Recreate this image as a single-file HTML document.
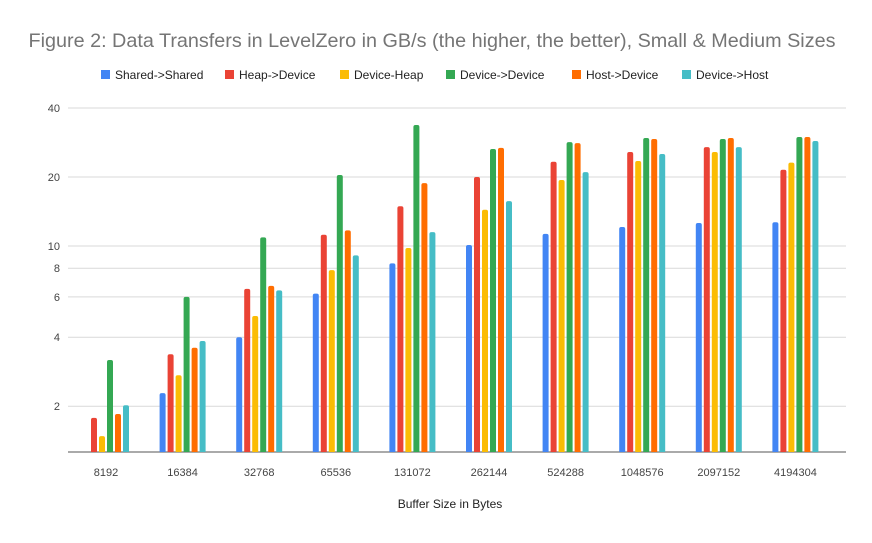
<!DOCTYPE html>
<html><head><meta charset="utf-8"><style>
body{margin:0;background:#fff;font-family:"Liberation Sans",sans-serif}
</style></head><body>
<svg id="chart" width="872" height="538" xmlns="http://www.w3.org/2000/svg" style="font-family:'Liberation Sans',sans-serif">
<rect width="872" height="538" fill="#fff"/>
<text x="432" y="47" text-anchor="middle" font-size="19.8" fill="#757575">Figure 2: Data Transfers in LevelZero in GB/s (the higher, the better), Small &amp; Medium Sizes</text>
<g id="grid"></g><g id="bars"></g><g id="legend"></g><g id="xlabels"></g>
<text x="450" y="508" text-anchor="middle" font-size="12" fill="#222">Buffer Size in Bytes</text>
</svg>
<script>
const categories=["8192","16384","32768","65536","131072","262144","524288","1048576","2097152","4194304"];
const seriesNames=["Shared->Shared","Heap->Device","Device-Heap","Device->Device","Host->Device","Device->Host"];
const sharedShared=[null,2.28,4.0,6.2,8.4,10.1,11.3,12.1,12.6,12.7];
const heapDevice=[1.78,3.37,6.5,11.2,14.9,20,23.3,25.7,27,21.5];
const deviceHeap=[1.48,2.73,4.95,7.85,9.8,14.4,19.4,23.5,25.7,23.1];
const deviceDevice=[3.18,6.0,10.9,20.4,33.7,26.5,28.4,29.6,29.3,29.9];
const hostDevice=[1.85,3.6,6.7,11.7,18.8,26.8,28.1,29.3,29.6,29.9];
const deviceHost=[2.02,3.85,6.4,9.1,11.5,15.7,21,25.2,27,28.7];
const yTicks=[2,4,6,8,10,20,40];
const colors=["#4285F4","#EA4335","#FBBC04","#34A853","#FF6D01","#46BDC6"];
const series=[sharedShared,heapDevice,deviceHeap,deviceDevice,hostDevice,deviceHost];
const NS="http://www.w3.org/2000/svg";
const L=68,R=846,B=452;
function y(v){return 246-69*Math.log2(v/10);}
function x(i){return 106+76.6*i;}
function mk(t,a,p){const e=document.createElementNS(NS,t);for(const k in a)e.setAttribute(k,a[k]);p.appendChild(e);return e;}
const grid=document.getElementById('grid');
yTicks.forEach(t=>{
 const l=mk('line',{x1:L,x2:R,y1:y(t),y2:y(t),stroke:'#d9d9d9','stroke-width':1},grid);
 
 
 const tx=mk('text',{x:L-8,y:y(t)+4,'text-anchor':'end','font-size':11,fill:'#444'},grid);
 tx.textContent=t;
 
 
});
const bl=mk('line',{x1:L,x2:R,y1:B,y2:B,stroke:'#555','stroke-width':1},grid);


const bars=document.getElementById('bars');
categories.forEach((c,i)=>{
 series.forEach((s,j)=>{
  const v=s[i]; if(v==null) return;
  const cx=x(i)+(j-2.5)*8;
  const top=y(v);
  const r=mk('path',{d:`M${cx-3},${B} V${top+2} Q${cx-3},${top} ${cx-1},${top} H${cx+1} Q${cx+3},${top} ${cx+3},${top+2} V${B} Z`,fill:colors[j]},bars);
  
  
 });
 const t=mk('text',{x:x(i),y:476,'text-anchor':'middle','font-size':11,fill:'#444'},document.getElementById('xlabels'));
 t.textContent=c;
 
 
});
const lg=document.getElementById('legend');
const lx=[101,225,340,446,572,682];
seriesNames.forEach((n,j)=>{
 const g=mk('g',{},lg);
 
 
 mk('rect',{x:lx[j],y:70,width:9,height:9,fill:colors[j]},g);
 const t=mk('text',{x:lx[j]+14,y:79,'font-size':12,fill:'#222'},g);
 t.textContent=n;
});
</script>
</body></html>
